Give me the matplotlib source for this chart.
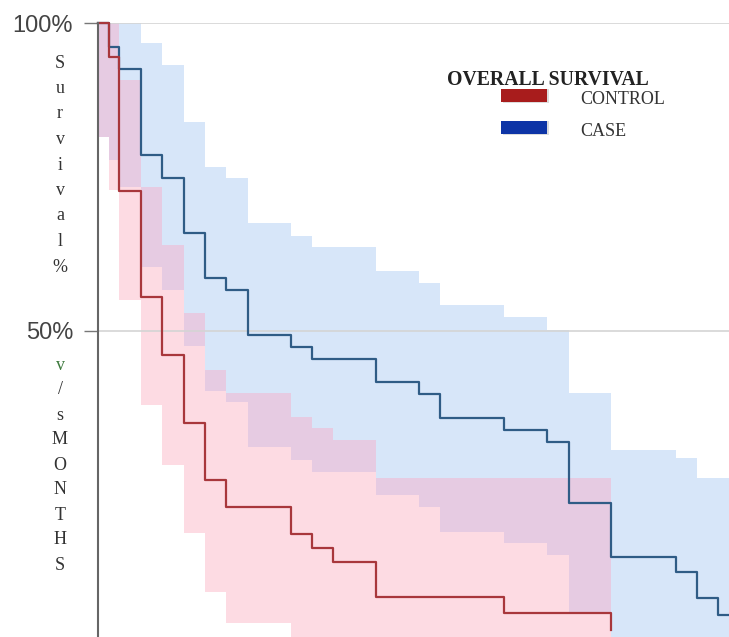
import numpy as np
import matplotlib.pyplot as plt
from matplotlib.patches import Rectangle

# Kaplan-Meier estimates (percent surviving), time in months
control_t = [0, 0.5, 1, 2, 3, 4, 5, 6, 9, 10, 11, 13, 19, 24]
control_s = [100, 94.5, 72.7, 55.5, 46.1, 35.1, 25.8, 21.4, 17.0, 14.8, 12.5, 6.8, 4.2, 1.5]

case_t = [0, 0.5, 1, 2, 3, 4, 5, 6, 7, 9, 10, 13, 15, 16, 19, 21, 22, 24, 27, 28, 29, 29.5]
case_s = [100, 96.1, 92.5, 78.6, 74.8, 65.9, 58.6, 56.7, 49.4, 47.4, 45.5, 41.7, 39.8,
          35.9, 33.9, 32.0, 22.1, 13.3, 10.9, 6.7, 3.9, 3.9]

# confidence bands (step-wise, last value repeated at the end time)
control_band_t = [0, 0.5, 1, 2, 3, 4, 5, 6, 9, 10, 11, 13, 24]
control_lo = [81.5, 72.9, 55.0, 38.0, 28.2, 17.2, 7.6, 2.6, 0, 0, 0, 0, 0]
control_hi = [100, 100, 90.7, 73.4, 64.0, 52.9, 43.7, 40.0, 36.0, 34.3, 32.3, 26.1, 26.1]

case_band_t = [0, 0.5, 1, 2, 3, 4, 5, 6, 7, 9, 10, 13, 15, 16, 19, 21, 22, 24, 27, 28, 29.5]
case_lo = [81.5, 77.8, 73.4, 60.4, 56.7, 47.6, 40.3, 38.5, 31.2, 29.1, 27.1, 23.4, 21.4,
           17.4, 15.6, 13.6, 4.4, 0, 0, 0, 0]
case_hi = [100, 100, 100, 96.8, 93.2, 83.9, 76.6, 74.8, 67.5, 65.4, 63.6, 59.7, 57.8,
           54.2, 52.3, 50.2, 40.0, 30.7, 29.4, 26.1, 26.1]

ytick_vals = [50, 100]
ytick_labels = ["50%", "100%"]
ylabel_top = "Survival%"
ylabel_bottom = "v/sMONTHS"

RED_LINE = "#a8373c"
BLUE_LINE = "#2f5c86"
RED_BAND = "#fddbe3"
BLUE_BAND = "#d7e6f9"
BOTH_BAND = "#e6cbe2"


def step_at(bt, vals, t):
    idx = np.searchsorted(bt, t, side="right") - 1
    return np.asarray(vals)[np.clip(idx, 0, len(vals) - 1)]


fig = plt.figure(figsize=(7.29, 6.37), dpi=100)
ax = fig.add_axes([98 / 729, 0, 631 / 729, 614 / 637])

ax.fill_between(case_band_t, case_lo, case_hi, step="post", color=BLUE_BAND, lw=0, zorder=1)
ax.fill_between(control_band_t, control_lo, control_hi, step="post", color=RED_BAND, lw=0, zorder=1)

# region covered by both bands
t_all = np.union1d(case_band_t, control_band_t)
t_all = t_all[t_all <= control_band_t[-1]]
lo = np.maximum(step_at(case_band_t, case_lo, t_all), step_at(control_band_t, control_lo, t_all))
hi = np.minimum(step_at(case_band_t, case_hi, t_all), step_at(control_band_t, control_hi, t_all))
hi = np.maximum(hi, lo)
ax.fill_between(t_all, lo, hi, step="post", color=BOTH_BAND, lw=0, zorder=2)

ax.step(case_t, case_s, where="post", color=BLUE_LINE, lw=1.6, zorder=4, clip_on=False)
ax.step(control_t, control_s, where="post", color=RED_LINE, lw=1.6, zorder=4, clip_on=False)

ax.set_xlim(0, 29.5)
ax.set_ylim(0.3, 100)
ax.set_xticks([])
ax.set_yticks(ytick_vals)
ax.set_yticklabels(ytick_labels, fontfamily="Liberation Sans", fontsize=17, color="#444444")
ax.tick_params(axis="y", length=10, width=1, color="#777777", pad=8)
ax.grid(axis="y", color="#d4d4d4", lw=1.2, zorder=3)
ax.set_axisbelow(False)
for side in ("top", "right", "bottom"):
    ax.spines[side].set_visible(False)
ax.spines["left"].set_color("#666666")
ax.spines["left"].set_linewidth(1.5)
ax.spines["left"].set_zorder(5)

# stacked axis title
for i, ch in enumerate(ylabel_top):
    fig.text(60 / 729, 1 - (63 + i * 25.5) / 637, ch, ha="center", va="center",
             family="Liberation Serif", fontsize=13, color="#333333")
for i, ch in enumerate(ylabel_bottom):
    col = "#3d7a3d" if i == 0 else "#333333"
    fig.text(60 / 729, 1 - (365 + i * 25) / 637, ch, ha="center", va="center",
             family="Liberation Serif", fontsize=13, color=col)

# legend
fig.text(548 / 729, 1 - 80 / 637, "OVERALL SURVIVAL", ha="center", va="center",
         family="Liberation Serif", fontweight="bold", fontsize=14.2, color="#222222")
for yc, col, lab in [(95, "#a81c1c", "CONTROL"), (127, "#0d34a6", "CASE")]:
    fig.patches.append(Rectangle((503 / 729, 1 - (yc + 8) / 637), 46 / 729, 14 / 637,
                                 transform=fig.transFigure, color="#bbbbbb", alpha=0.5, lw=0))
    fig.patches.append(Rectangle((501 / 729, 1 - (yc + 7) / 637), 46 / 729, 13 / 637,
                                 transform=fig.transFigure, color=col, lw=0))
    fig.text(580 / 729, 1 - (yc + 5) / 637, lab, ha="left", va="center",
             family="Liberation Serif", fontsize=13, color="#333333")

fig.savefig("out.png", dpi=100)
